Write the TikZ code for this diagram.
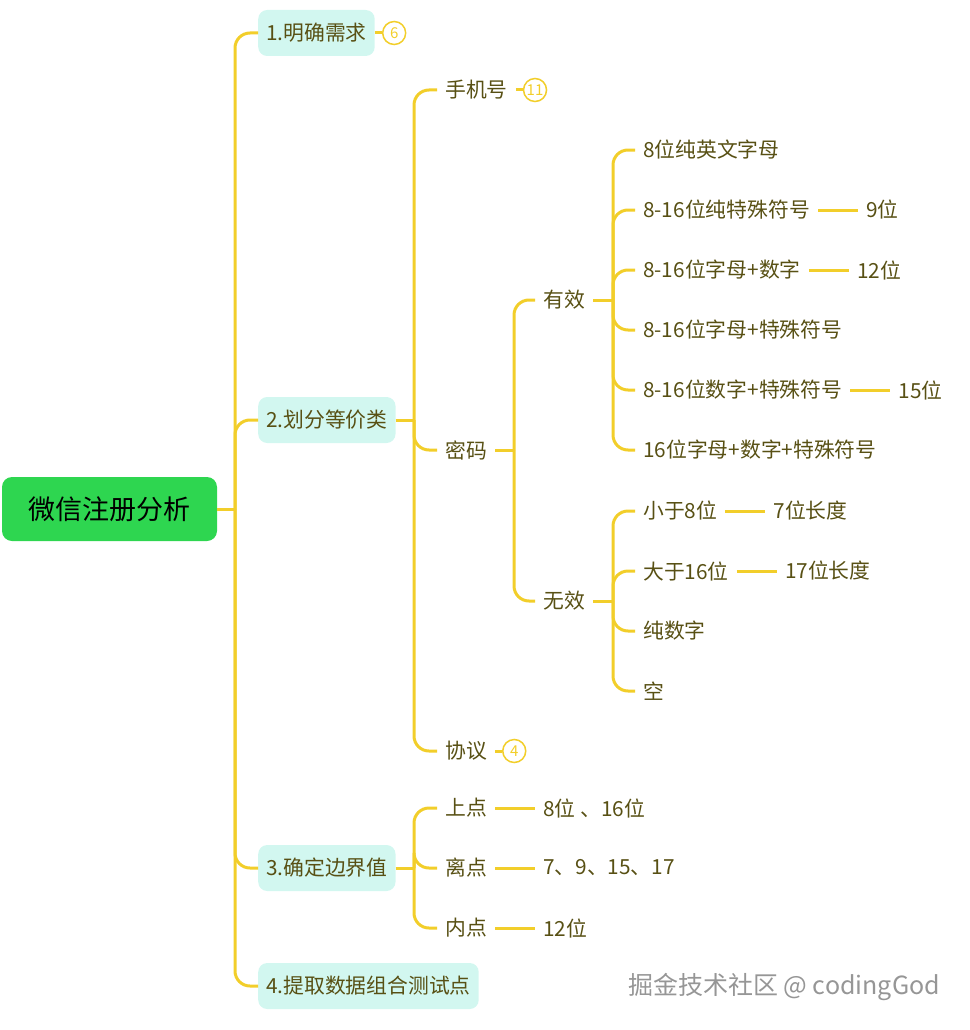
\documentclass[tikz,border=0pt]{standalone}
\usepackage{fontspec}
\setmainfont{Noto Sans CJK SC}
\usetikzlibrary{positioning}
\definecolor{ln}{RGB}{242,206,42}
\definecolor{catc}{RGB}{210,247,240}
\definecolor{rootg}{RGB}{46,214,80}
\definecolor{txt}{RGB}{88,80,20}
\definecolor{wmc}{RGB}{150,150,150}
\begin{document}
\begin{tikzpicture}[x=1pt,y=-1pt,
 conn/.style={draw=ln,line width=3pt,rounded corners=15pt},
 rootbox/.style={fill=rootg,rounded corners=10pt,minimum width=215pt,minimum height=64pt,inner sep=0pt,font=\fontsize{27}{31}\selectfont,text=black},
 catbox/.style={fill=catc,rounded corners=9pt,minimum height=46pt,inner xsep=8pt,inner ysep=0pt,anchor=west,font=\fontsize{20.8}{24}\selectfont,text=txt},
 topic/.style={inner xsep=8pt,inner ysep=3pt,anchor=west,font=\fontsize{20.8}{24}\selectfont,text=txt},
 badge/.style={circle,draw=ln,line width=1.5pt,minimum size=23pt,inner sep=0pt,text=ln,font=\fontsize{15}{15}\selectfont}
]
\useasboundingbox (0,0) rectangle (969,1030);

% root and level 1
\node[rootbox] (root) at (109.5,509) {微信注册分析};
\node[catbox] (c1) at (258,33) {1.明确需求};
\node[catbox] (c2) at (258,420) {2.划分等价类};
\node[catbox] (c3) at (258,868) {3.确定边界值};
\node[catbox] (c4) at (258,986) {4.提取数据组合测试点};
\node[badge,right=7pt of c1] (b6) {6};

% level 2 under c2
\node[topic] (phone) at (437,90) {手机号};
\node[badge,right=7pt of phone] (b11) {11};
\node[topic] (pwd) at (437,450) {密码};
\node[topic] (proto) at (437,751) {协议};
\node[badge,right=7pt of proto] (b4) {4};

% password
\node[topic] (valid) at (535,300) {有效};
\node[topic] (invalid) at (535,601) {无效};

\node[topic] (v1) at (635,150) {8位纯英文字母};
\node[topic] (v2) at (635,210) {8-16位纯特殊符号};
\node[topic] (v3) at (635,270) {8-16位字母+数字};
\node[topic] (v4) at (635,330) {8-16位字母+特殊符号};
\node[topic] (v5) at (635,390) {8-16位数字+特殊符号};
\node[topic] (v6) at (635,450) {16位字母+数字+特殊符号};
\node[topic,right=40pt of v2] (v2a) {9位};
\node[topic,right=40pt of v3] (v3a) {12位};
\node[topic,right=40pt of v5] (v5a) {15位};

\node[topic] (i1) at (635,511) {小于8位};
\node[topic] (i2) at (635,571) {大于16位};
\node[topic] (i3) at (635,631) {纯数字};
\node[topic] (i4) at (635,691) {空};
\node[topic,right=40pt of i1] (i1a) {7位长度};
\node[topic,right=40pt of i2] (i2a) {17位长度};

% boundaries
\node[topic] (e1) at (437,808) {上点};
\node[topic] (e2) at (437,868) {离点};
\node[topic] (e3) at (437,928) {内点};
\node[topic,right=40pt of e1] (e1a) {8位 、16位};
\node[topic,right=40pt of e2] (e2a) {7、9、15、17};
\node[topic,right=40pt of e3] (e3a) {12位};

% spine coordinates
\coordinate (sR) at (235,509);
\coordinate (s2) at (414,420);
\coordinate (sP) at (514,450);
\coordinate (sV) at (613,300);
\coordinate (sI) at (613,601);
\coordinate (s3) at (414,868);

% connectors
\draw[conn] (root.east) -- (sR);
\foreach \c in {c1,c2,c3,c4} \draw[conn] (sR) |- (\c.west);
\draw[conn] (c1.east) -- (b6.west);

\draw[conn] (c2.east) -- (s2);
\foreach \c in {phone,pwd,proto} \draw[conn] (s2) |- (\c.west);
\draw[conn] (phone.east) -- (b11.west);
\draw[conn] (proto.east) -- (b4.west);

\draw[conn] (pwd.east) -- (sP);
\foreach \c in {valid,invalid} \draw[conn] (sP) |- (\c.west);

\draw[conn] (valid.east) -- (sV);
\foreach \c in {v1,v2,v3,v4,v5,v6} \draw[conn] (sV) |- (\c.west);
\draw[conn] (v2.east) -- (v2a.west);
\draw[conn] (v3.east) -- (v3a.west);
\draw[conn] (v5.east) -- (v5a.west);

\draw[conn] (invalid.east) -- (sI);
\foreach \c in {i1,i2,i3,i4} \draw[conn] (sI) |- (\c.west);
\draw[conn] (i1.east) -- (i1a.west);
\draw[conn] (i2.east) -- (i2a.west);

\draw[conn] (c3.east) -- (s3);
\foreach \c in {e1,e2,e3} \draw[conn] (s3) |- (\c.west);
\draw[conn] (e1.east) -- (e1a.west);
\draw[conn] (e2.east) -- (e2a.west);
\draw[conn] (e3.east) -- (e3a.west);

% watermark
\node[text=wmc,font=\fontsize{25}{29}\selectfont] (wm) at (784,987) {掘金技术社区 @ codingGod};
\end{tikzpicture}
\end{document}
